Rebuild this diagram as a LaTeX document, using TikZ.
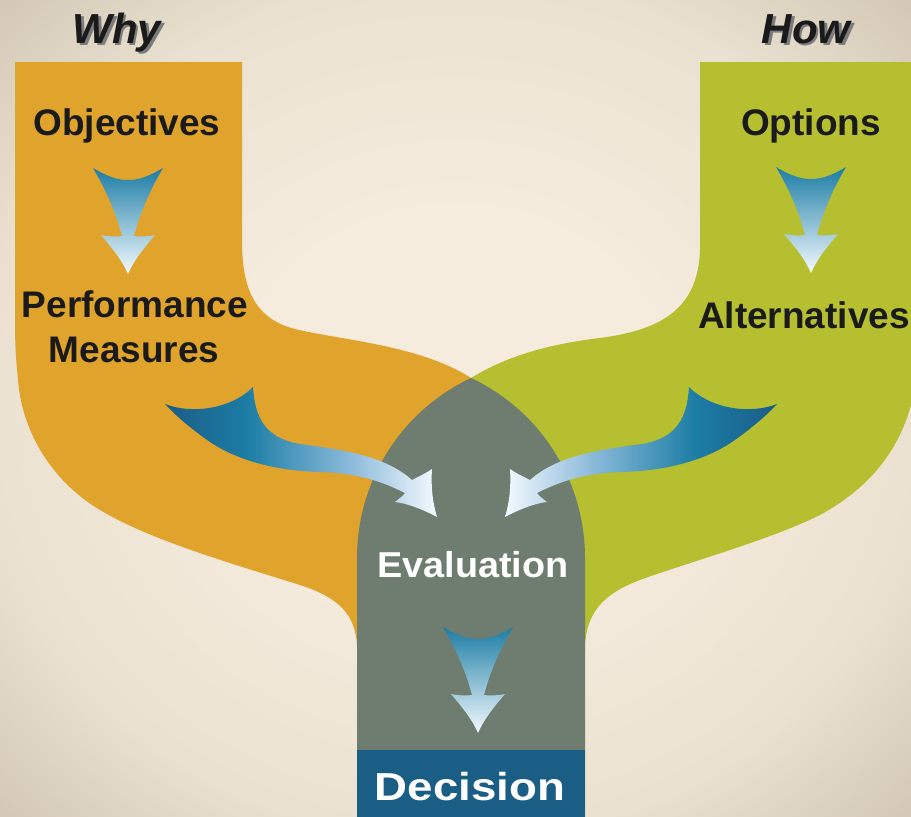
\documentclass[tikz,border=0pt]{standalone}
\usepackage{fontspec}
\setmainfont{Liberation Sans}
\definecolor{bgin}{HTML}{F6ECDE}
\definecolor{bgmid}{HTML}{EBE1D0}
\definecolor{bgout}{HTML}{D0C6B3}
\definecolor{orangeband}{HTML}{E0A32B}
\definecolor{greenband}{HTML}{B6BF2F}
\definecolor{graystem}{HTML}{6E7D6F}
\definecolor{decblue}{HTML}{1B5E85}
\definecolor{adark}{HTML}{1A5C88}
\definecolor{ablue}{HTML}{1C7DA5}
\definecolor{alight}{HTML}{8BBADA}
\definecolor{awhite}{HTML}{F4FAFF}
\definecolor{txt}{HTML}{1A1A1A}
\definecolor{shadowgray}{HTML}{7C7C7C}
\pgfdeclareradialshading{bgshade}{\pgfpoint{0bp}{0bp}}{color(0bp)=(bgin); color(12bp)=(bgin); color(26bp)=(bgmid); color(36bp)=(bgout); color(50bp)=(bgout)}
\pgfdeclarehorizontalshading{lcurve}{100bp}{color(0bp)=(adark); color(25bp)=(adark); color(40bp)=(ablue); color(59bp)=(alight); color(75bp)=(awhite); color(100bp)=(awhite)}
\pgfdeclarehorizontalshading{rcurve}{100bp}{color(0bp)=(awhite); color(25bp)=(awhite); color(41bp)=(alight); color(60bp)=(ablue); color(75bp)=(adark); color(100bp)=(adark)}
\newcommand{\shadowed}[1]{\rlap{\hspace{2.5pt}\raisebox{-2.5pt}{\textcolor{shadowgray}{#1}}}#1}
\tikzset{
  lbl/.style={anchor=base, inner sep=0pt, text=txt, font=\bfseries\fontsize{37}{44}\selectfont},
  wlbl/.style={anchor=base, inner sep=0pt, text=white, font=\bfseries\fontsize{36}{43}\selectfont},
  head/.style={anchor=base, inner sep=0pt, text=txt, font=\bfseries\itshape\fontsize{42}{50}\selectfont},
  downshade/.style={top color=ablue, bottom color=awhite}
}
\newcommand{\myDownArrow}[2]{%
  \begin{scope}[shift={(#1,#2)}]
    \path[downshade] (-35,0) .. controls (-20,9) and (-10,12) .. (0,12)
      .. controls (10,12) and (20,9) .. (35,0)
      .. controls (22,22) and (12,45) .. (6,68)
      .. controls (14,69) and (22,68) .. (27,67)
      .. controls (16,80) and (6,92) .. (0,106)
      .. controls (-6,92) and (-16,80) .. (-27,67)
      .. controls (-22,68) and (-14,69) .. (-6,68)
      .. controls (-12,45) and (-22,22) .. (-35,0) -- cycle;
  \end{scope}}
\begin{document}
\begin{tikzpicture}[x=1pt,y=-1pt]
\useasboundingbox (0,0) rectangle (911,817);
% background
\path[shading=bgshade] (0,0) rectangle (911,817);
% orange band (Why)
\fill[orangeband] (15,62) -- (242,62) -- (242,240)
  .. controls (242,285) and (252,318) .. (295,329)
  .. controls (340,340) and (420,345) .. (471,378)
  -- (471,650) -- (357,650) -- (357,645)
  .. controls (355,615) and (340,598) .. (300,585)
  .. controls (230,563) and (150,540) .. (100,510)
  .. controls (50,480) and (22,430) .. (18,380)
  .. controls (16,360) and (15,345) .. (15,320) -- cycle;
% green band (How)
\fill[greenband] (700,62) -- (911,62) -- (911,405)
  .. controls (900,445) and (875,485) .. (820,515)
  .. controls (770,540) and (680,565) .. (640,580)
  .. controls (600,595) and (587,615) .. (585,645)
  -- (585,650) -- (471,650) -- (471,378)
  .. controls (500,360) and (540,345) .. (600,338)
  .. controls (660,330) and (698,310) .. (700,250) -- cycle;
% gray stem
\fill[graystem] (357,817) -- (357,558) .. controls (357,481) and (401,411) .. (471,378)
  .. controls (541,411) and (585,481) .. (585,558) -- (585,817) -- cycle;
% decision box
\fill[decblue] (357,750) rectangle (585,817);
% down arrows
\myDownArrow{128}{168}
\myDownArrow{811}{167}
\myDownArrow{478}{627}
% left curved arrow
\path[shading=lcurve] (165,404) .. controls (190,414) and (230,410) .. (253,387)
  .. controls (255,418) and (265,438) .. (300,444)
  .. controls (345,450) and (385,456) .. (412,480)
  .. controls (420,476) and (428,472) .. (432,469)
  .. controls (431,485) and (432,500) .. (437,517)
  .. controls (420,508) and (405,503) .. (395,502)
  .. controls (400,498) and (403,496) .. (405,493)
  .. controls (385,483) and (360,473) .. (320,472)
  .. controls (280,471) and (240,462) .. (210,442)
  .. controls (190,428) and (175,415) .. (165,404) -- cycle;
% right curved arrow (mirror about x=471)
\path[shading=rcurve] (777,404) .. controls (752,414) and (712,410) .. (689,387)
  .. controls (687,418) and (677,438) .. (642,444)
  .. controls (597,450) and (557,456) .. (530,480)
  .. controls (522,476) and (514,472) .. (510,469)
  .. controls (511,485) and (510,500) .. (505,517)
  .. controls (522,508) and (537,503) .. (547,502)
  .. controls (542,498) and (539,496) .. (537,493)
  .. controls (557,483) and (582,473) .. (622,472)
  .. controls (662,471) and (702,462) .. (732,442)
  .. controls (752,428) and (767,415) .. (777,404) -- cycle;
% headings
\node[head] (why) at (117,43) {\shadowed{Why}};
\node[head] (how) at (806,43) {\shadowed{How}};
% labels
\node[lbl] (obj) at (127,135) {Objectives};
\node[lbl] (perf) at (135,317) {Performance};
\node[lbl] (meas) at (134,362) {Measures};
\node[lbl] (opt) at (811,135) {Options};
\node[lbl] (alt) at (804,328) {Alternatives};
\node[wlbl, xscale=1.05] (eval) at (473,577) {Evaluation};
\node[wlbl, font=\bfseries\fontsize{39}{46}\selectfont, xscale=1.17] (dec) at (470,800) {Decision};
\end{tikzpicture}
\end{document}
